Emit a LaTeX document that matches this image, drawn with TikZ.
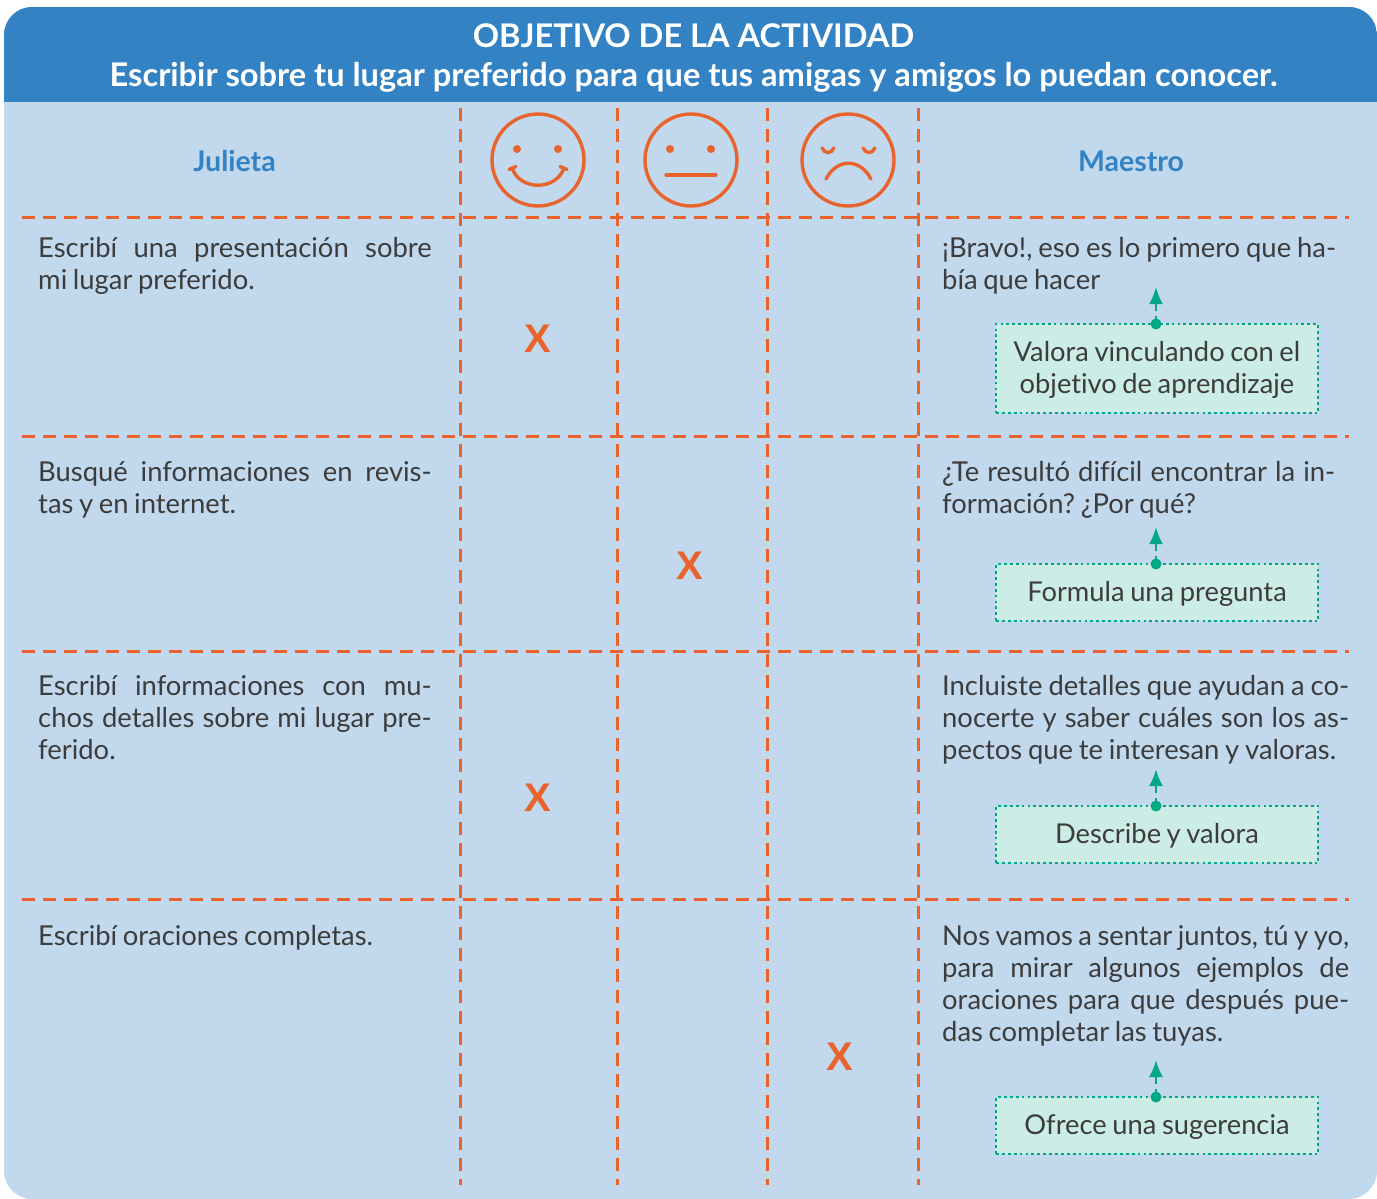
\documentclass[tikz,border=0pt]{standalone}
\usepackage{fontspec}
\setmainfont{Lato}[Ligatures=NoCommon,WordSpace=0.8]
\newfontfamily\titlef{Lato}[Ligatures=NoCommon]
\newfontfamily\xfont{Liberation Sans}
\usetikzlibrary{arrows.meta}
\definecolor{hdr}{HTML}{3282C4}
\definecolor{bgc}{HTML}{C1D8ED}
\definecolor{boxc}{HTML}{CCEDE5}
\definecolor{grn}{HTML}{00A886}
\definecolor{org}{HTML}{E9642D}
\definecolor{txt}{HTML}{3C3C3C}
\tikzset{
 rule/.style={draw=org,line width=2.8pt,dash pattern=on 13pt off 8pt},
 face/.style={draw=org,line width=3.4pt,line cap=round,fill=none},
 body/.style={anchor=north west,inner sep=0pt,text=txt,align=left,font=\fontsize{27.4}{32}\selectfont\frenchspacing},
 tag/.style={draw=grn,fill=boxc,line width=2.8pt,dash pattern=on 2.8pt off 3.1pt,minimum width=322pt,inner sep=0pt,text=txt,align=center,font=\fontsize{27.3}{32}\selectfont\frenchspacing},
 dotn/.style={circle,fill=grn,inner sep=0pt,minimum size=11pt},
 link/.style={draw=grn,line width=2.6pt,dash pattern=on 8pt off 5pt on 40pt,-{Latex[length=17pt,width=14pt]}},
 headc/.style={text=hdr,font=\fontsize{28.5}{32}\selectfont\bfseries,inner sep=0pt},
 xmark/.style={text=org,font=\xfont\fontsize{40}{40}\selectfont\bfseries,inner sep=0pt},
}
\newcommand{\jl}[2]{\makebox[#1pt][s]{#2}}
\newcommand{\tl}[1]{\raisebox{0pt}[\dimexpr\height+3pt\relax]{#1}}
\begin{document}
\begin{tikzpicture}[x=1pt,y=-1pt]
\useasboundingbox (0,0) rectangle (1377,1199);
\fill[bgc,rounded corners=28pt] (4,7) rectangle (1377,1199);
\begin{scope}
\clip[rounded corners=28pt] (4,7) rectangle (1377,1199);
\fill[hdr] (4,7) rectangle (1377,102);
\end{scope}
\node[text=white,font=\fontsize{32.6}{39}\selectfont\titlef\bfseries\frenchspacing,align=center,inner sep=0pt] (title) at (693.5,58.5)
 {OBJETIVO DE LA ACTIVIDAD\\Escribir sobre tu lugar preferido para que tus amigas y amigos lo puedan conocer.};
% grid
\foreach \x/\n in {460.5/a,617.5/b,767.5/c,918.5/d}{\draw[rule] (\x,108) -- (\x,1185);}
\foreach \y in {217.5,436.5,651.5,899.5}{\draw[rule] (22,\y) -- (1349,\y);}
% headers
\node[headc] (julieta) at (234.5,161.5) {Julieta};
\node[headc] (maestro) at (1131,161.5) {Maestro};
% faces
\draw[face] (538,160) circle (46);
\fill[org] (517,149) circle (4) (558,149) circle (4);
\draw[face] (512,168) .. controls (520,191) and (556,191) .. (564,168);
\draw[face] (509,169.5) -- (516,166.5) (567,169.5) -- (560,166.5);
\draw[face] (691,160) circle (46);
\fill[org] (670,149) circle (4) (711,149) circle (4);
\draw[face] (666,175) -- (716,175);
\draw[face] (848,160) circle (46);
\draw[face] (822,148) .. controls (825,154) and (831,154) .. (834,148);
\draw[face] (863,148) .. controls (866,154) and (872,154) .. (875,148);
\draw[face] (826,179) .. controls (837,158) and (860,158) .. (871,179);
% left column
\node[body] (j1) at (38,237) {\jl{393.5}{Escribí una presentación sobre}\\mi lugar preferido.};
\node[body] (j2) at (38,461) {\jl{393.5}{Busqué informaciones en revis-}\\tas y en internet.};
\node[body] (j3) at (38,675) {\jl{393.5}{Escribí informaciones con mu-}\\\jl{393.5}{chos detalles sobre mi lugar pre-}\\ferido.};
\node[body] (j4) at (38,925) {Escribí oraciones completas.};
% marks
\node[xmark] (x1) at (538,339) {X};
\node[xmark] (x2) at (690,566) {X};
\node[xmark] (x3) at (538,798) {X};
\node[xmark] (x4) at (840,1057) {X};
% right column
\node[body] (m1) at (942,237) {\jl{394}{¡Bravo!, eso es lo primero que ha-}\\bía que hacer};
\node[body] (m2) at (942,461) {\jl{393}{¿Te resultó difícil encontrar la in-}\\formación? ¿Por qué?};
\node[body] (m3) at (942,675) {\jl{407}{Incluiste detalles que ayudan a co-}\\\jl{407}{nocerte y saber cuáles son los as-}\\\jl{394}{pectos que te interesan y valoras.}};
\node[body] (m4) at (942,925) {\jl{407}{Nos vamos a sentar juntos, tú y yo,}\\\jl{407}{para mirar algunos ejemplos de}\\\jl{407}{oraciones para que después pue-}\\das completar las tuyas.};
% tags
\node[tag,minimum height=89pt] (t1) at (1157,368.5) {\tl{Valora vinculando con el}\\objetivo de aprendizaje};
\node[tag,minimum height=57pt] (t2) at (1157,592.5) {\tl{Formula una pregunta}};
\node[tag,minimum height=57pt] (t3) at (1157,834.5) {\tl{Describe y valora}};
\node[tag,minimum height=57pt] (t4) at (1157,1125.5) {\tl{Ofrece una sugerencia}};
% connectors
\foreach \t/\d/\e/\yd/\ye in {t1/d1/e1/324/287,t2/d2/e2/564/527,t3/d3/e3/806/769,t4/d4/e4/1097/1060}{
 \node[dotn] (\d) at (1156,\yd) {};
 \coordinate (\e) at (1156,\ye);
 \draw[link] (\d.center) -- (\e);
}
\end{tikzpicture}
\end{document}
